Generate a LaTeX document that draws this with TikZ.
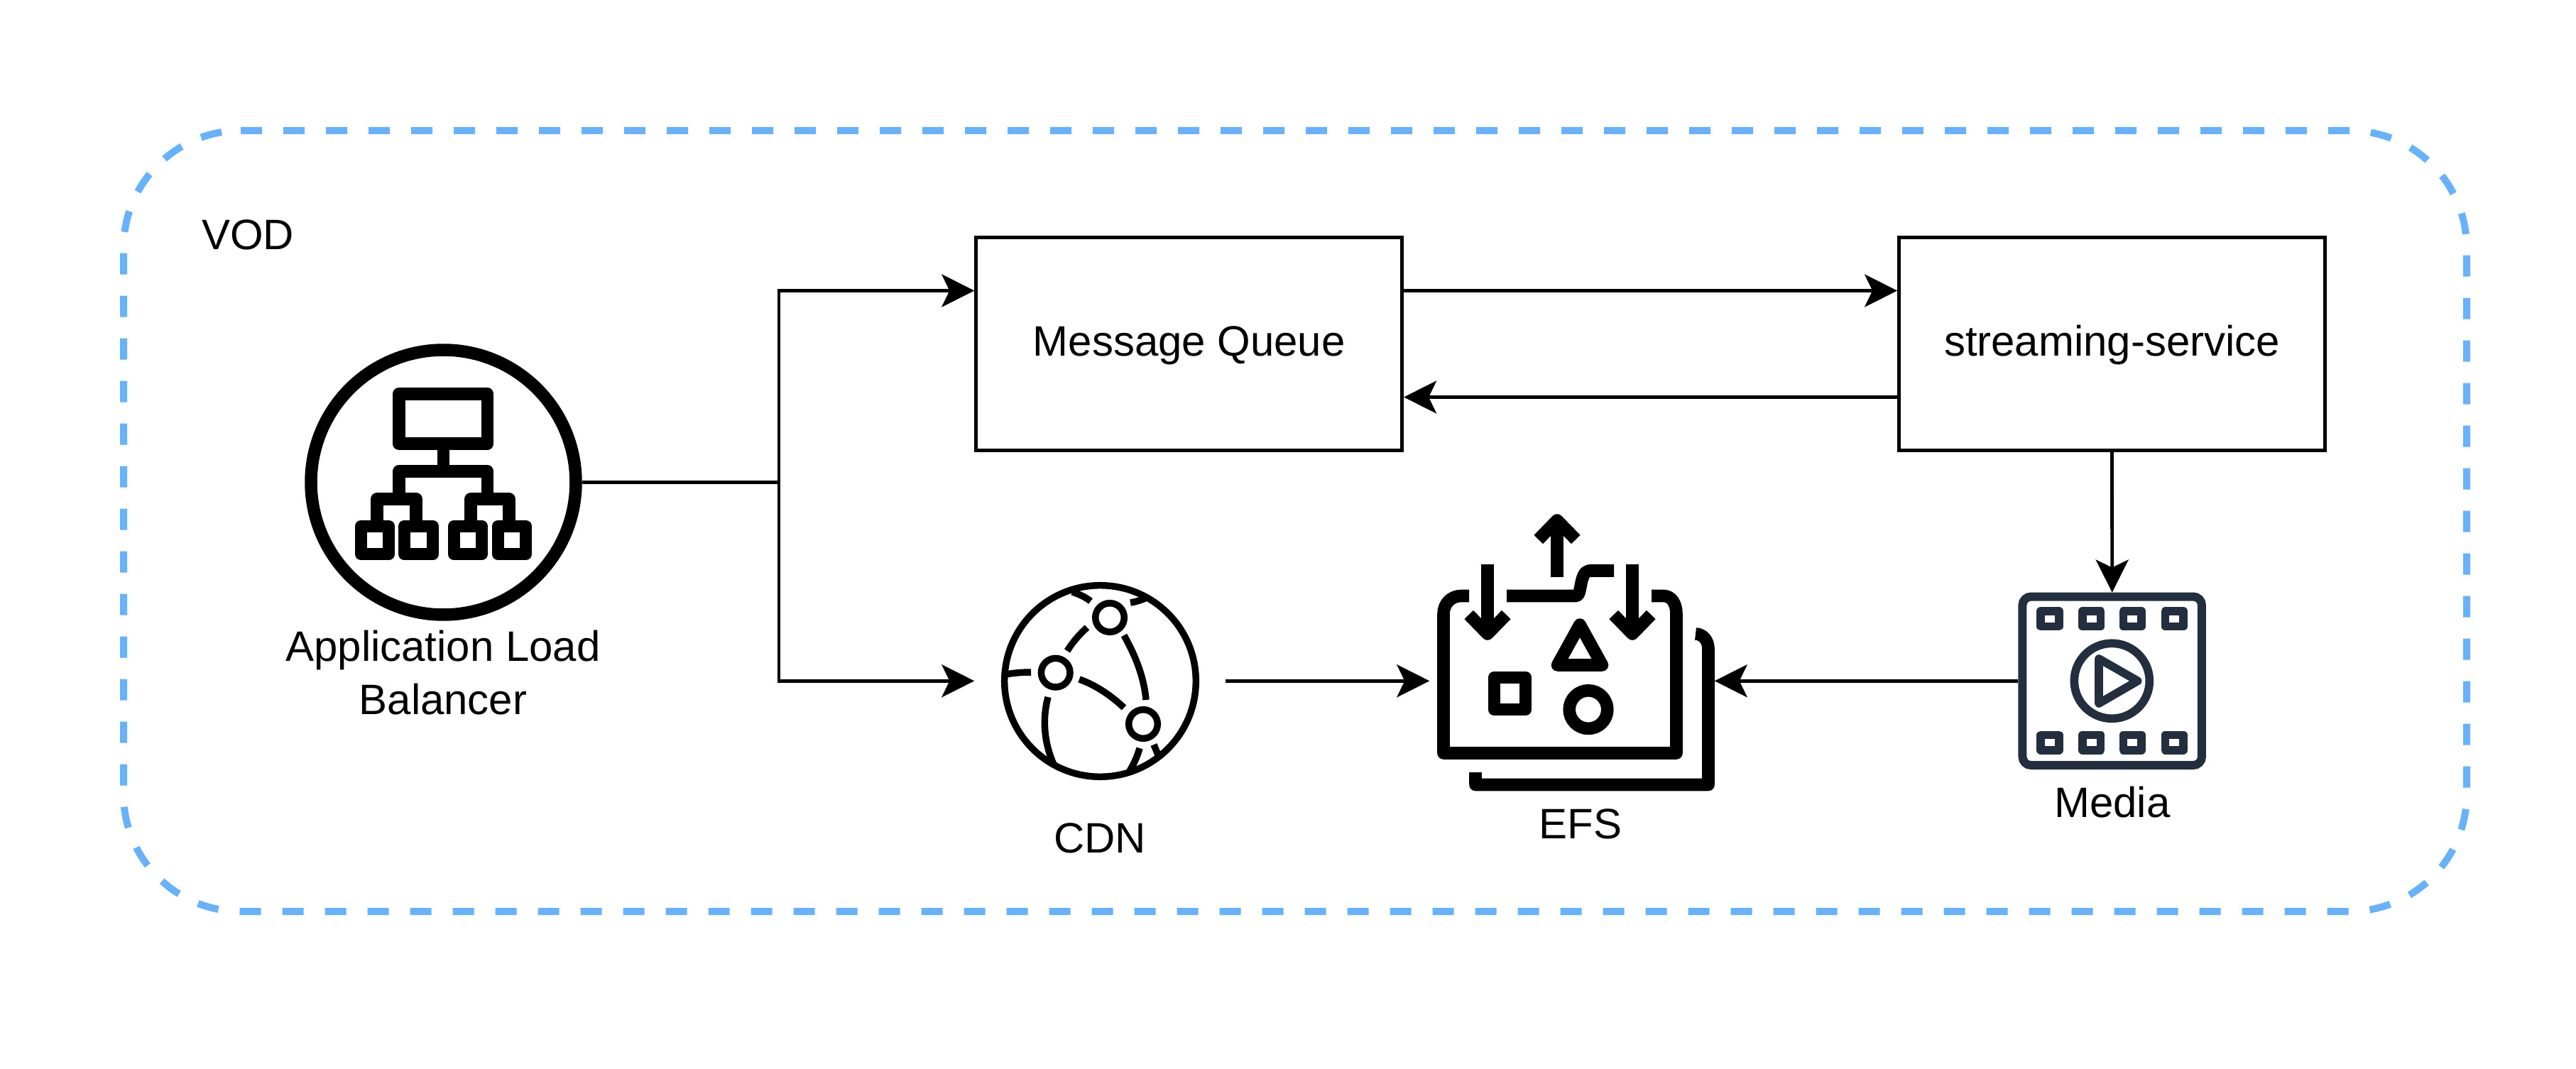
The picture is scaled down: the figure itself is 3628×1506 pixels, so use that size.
\documentclass[tikz,border=0pt]{standalone}
\usepackage{fontspec}
\setmainfont{Liberation Sans}
\usetikzlibrary{arrows.meta,shapes.geometric}
\definecolor{vodblue}{HTML}{66B2FF}
\definecolor{awsdark}{HTML}{232F3E}
\tikzset{
  caption/.style  = {anchor=base, inner sep=0pt, align=center,
                     font=\fontsize{17.05}{21.3}\selectfont},
  svcbox/.style   = {shape=rectangle, draw, line width=0.48mm, minimum width=6cm,
                     minimum height=3cm, inner sep=0pt, text height=4.5mm, text depth=1.06mm,
                     font=\fontsize{17.05}{20}\selectfont},
  frame/.style    = {shape=rectangle, inner sep=0pt},
  flow/.style     = {line width=0.48mm, -{Stealth[length=4.6mm,width=4.6mm,inset=1.1mm]}},
  link/.style     = {line width=0.48mm},
  heavy/.style    = {line width=1.76mm, line join=round},
  globe/.style    = {line width=0.95mm},
  film/.style     = {draw=awsdark, line width=1.17mm, line join=round}
}

\begin{document}
\begin{tikzpicture}[x=0.1mm,y=-0.1mm]
\path[use as bounding box] (0,0) rectangle (3628,1506);
% outer dashed group
\draw[vodblue, line width=1mm, dash pattern=on 3mm off 3mm, rounded corners=16.5mm]
  (339,184) -- (3474,184) -- (3474,1284) -- (174,1284) -- (174,184) -- (339,184);
\node[caption] (vod) at (349,352) {VOD};
% services
\node[svcbox] (mq) at (1674.7,484.5) {Message Queue};
\node[svcbox] (stream) at (2974.5,484.5) {streaming-service};
% icon frames
\node[frame, shape=circle, draw, line width=1.75mm, minimum size=3.73cm] (alb) at (624.5,679.5) {};
\node[frame, minimum width=3.52cm, minimum height=3.52cm] (cdn) at (1549,959.3) {};
\node[frame, minimum width=4cm, minimum height=4cm] (efs) at (2214,959.3) {};
\node[frame, draw=awsdark, line width=1.2mm, rounded corners=1.2mm, minimum width=2.525cm,
      minimum height=2.375cm] (media) at (2974.7,959.3) {};
\coordinate (branch) at (1097,679.5);
% captions
\node[caption] (albtext) at (624,1006.8) {Application Load\\Balancer};
\node[caption] (cdntext) at (1549,1201.7) {CDN};
\node[caption] (efstext) at (2226,1181.7) {EFS};
\node[caption] (mediatext) at (2975,1151.7) {Media};
% connectors
\draw[link] (alb.east) -- (branch);
\draw[flow] (branch) |- ([yshift=7.5mm]mq.west);
\draw[flow] (branch) |- (cdn.west);
\draw[flow] ([yshift=7.5mm]mq.east) -- ([yshift=7.5mm]stream.west);
\draw[flow] ([yshift=-7.5mm]stream.west) -- ([yshift=-7.5mm]mq.east);
\draw[flow] (stream.south) -- (media.north);
\draw[flow] (cdn.east) -- (efs.west);
\draw[flow] (media.west) -- (efs.east);
% load balancer tree
\draw[heavy] (561.7,555) rectangle (686.5,625);
\draw[heavy] (624.5,625) -- (624.5,664);
\draw[heavy] (561.7,703) -- (561.7,664) -- (686.5,664) -- (686.5,703);
\draw[heavy] (531,741.5) -- (531,703) -- (586,703) -- (586,741.5);
\draw[heavy] (663,741.5) -- (663,703) -- (717,703) -- (717,741.5);
\draw[heavy] (508.5,741.5) rectangle (547.5,780.5);
\draw[heavy] (569.5,741.5) rectangle (609.5,780.5);
\draw[heavy] (639.5,741.5) rectangle (678.5,780.5);
\draw[heavy] (701.5,741.5) rectangle (740.5,780.5);
% cdn globe
\draw[globe] (1549.5,959.5) circle [radius=134.8];
\draw[globe] (1563,870) circle [radius=20.3];
\draw[globe] (1486.7,947.7) circle [radius=20.3];
\draw[globe] (1610,1020) circle [radius=20.3];
\draw[globe] (1510,834) .. controls (1520,837) and (1530,842) .. (1536,847);
\draw[globe] (1592,849) .. controls (1600,848) and (1608,845) .. (1615,842);
\draw[globe] (1531,884) .. controls (1521,893) and (1511,904) .. (1503,917);
\draw[globe] (1583,895) .. controls (1598,922) and (1611,952) .. (1614,986);
\draw[globe] (1520,957) .. controls (1543,965) and (1565,980) .. (1583,997);
\draw[globe] (1417,950) .. controls (1428,948) and (1440,947) .. (1452,947);
\draw[globe] (1476,982) .. controls (1468,1012) and (1470,1045) .. (1484,1077);
\draw[globe] (1605,1054) .. controls (1602,1065) and (1597,1076) .. (1591,1086);
\draw[globe] (1625,1049) -- (1632,1066);
% efs folders
\draw[heavy] (2069,839.5) -- (2058,839.5) .. controls (2044,839.5) and (2033,850) .. (2033,865)
  -- (2033,1061) -- (2361,1061) -- (2361,865) .. controls (2361,850) and (2354,839.5) .. (2343,839.5) -- (2326,839.5);
\draw[heavy] (2122,839.5) -- (2220,839.5) .. controls (2228,839.5) and (2224,806) .. (2238,804) -- (2273,804);
\draw[heavy] (2388,893) .. controls (2398,893) and (2406,902) .. (2406,914)
  -- (2406,1105.5) -- (2078,1105.5) -- (2078,1088);
\draw[heavy] (2193,813) -- (2193,733);
\draw[heavy] (2166.7,760) -- (2193,733) -- (2219.3,760);
\draw[heavy] (2095,795) -- (2095,893);
\draw[heavy] (2068.7,866) -- (2095,893) -- (2121.3,866);
\draw[heavy] (2299,795) -- (2299,893);
\draw[heavy] (2272.7,866) -- (2299,893) -- (2325.3,866);
\draw[heavy] (2225,880) -- (2256.5,937) -- (2193.5,937) -- cycle;
\draw[heavy] (2104.5,954.5) rectangle (2148.5,999.5);
\draw[heavy] (2237,999.6) circle [radius=26.8];
% media film strip
\draw[film] (2874.2,861.1) rectangle (2899.8,882.5);
\draw[film] (2933,861.1) rectangle (2958.6,882.5);
\draw[film] (2990.5,861.1) rectangle (3016.1,882.5);
\draw[film] (3049.5,861.1) rectangle (3075.1,882.5);
\draw[film] (2874.2,1035.4) rectangle (2899.8,1056.7);
\draw[film] (2933,1035.4) rectangle (2958.6,1056.7);
\draw[film] (2990.5,1035.4) rectangle (3016.1,1056.7);
\draw[film] (3049.5,1035.4) rectangle (3075.1,1056.7);
\draw[film] (2974.3,959.3) circle [radius=53];
\draw[film] (2956,928) -- (3010.7,959.3) -- (2956,991) -- cycle;
\end{tikzpicture}
\end{document}
